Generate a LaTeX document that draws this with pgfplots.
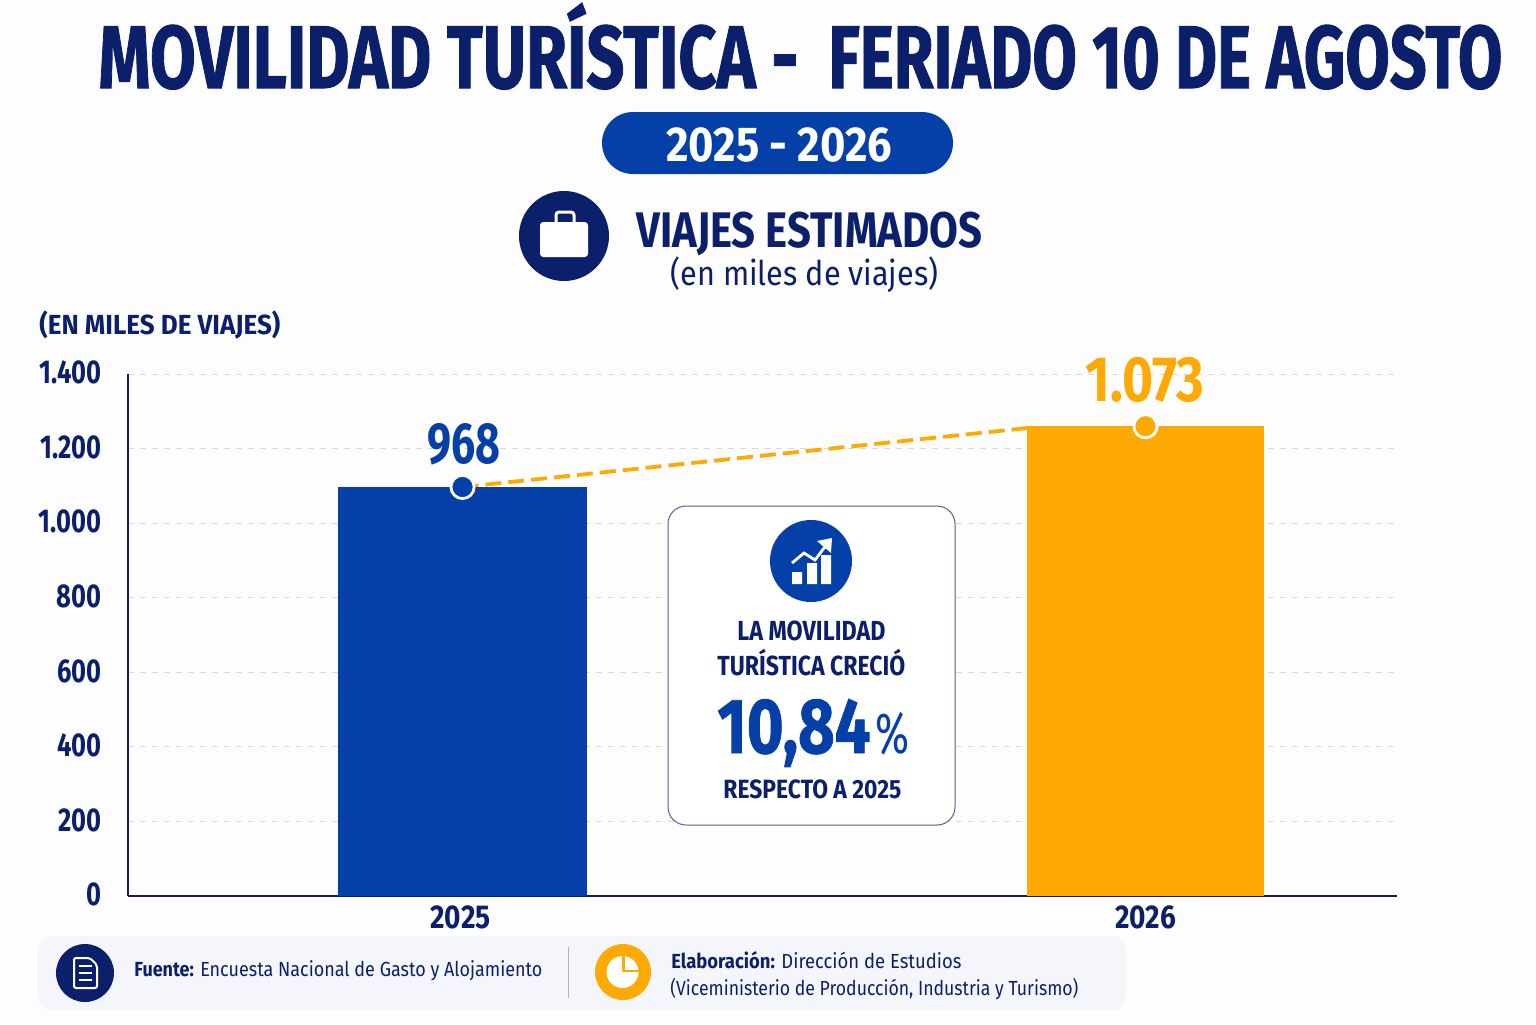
\documentclass[border=0pt]{standalone}
\usepackage{graphicx}
\usepackage{fontspec}
\usepackage{pgfplots}
\pgfplotsset{compat=1.18}
\setmainfont{Fira Sans}
\newfontfamily\heavy[FakeBold=1.2]{Fira Sans}
\definecolor{navy}{HTML}{0B1F6B}
\definecolor{cblue}{HTML}{0540A8}
\definecolor{corange}{HTML}{FFA905}
\definecolor{bgc}{HTML}{FDFDFE}
\definecolor{foot}{HTML}{F5F6FC}
\newcommand\T[6]{\node[anchor=base west,inner sep=0pt,text=#5] at (#1,#2) {\fontsize{#4}{#4}\selectfont\resizebox{\dimexpr#3pt/2\relax}{\height}{#6}};}
\newcommand\W[3]{\fontsize{#2}{#2}\selectfont\resizebox{\dimexpr#1pt/2\relax}{\height}{#3}}
\begin{document}
\begin{tikzpicture}[x=0.5pt,y=-0.5pt]
\fill[bgc] (0,0) rectangle (1536,1024);
% Bar heights follow the heights as drawn in the reference (on its own axis);
% the printed labels 968 and 1.073 are kept as printed there.
\begin{axis}[
  at={(64pt,-448pt)},anchor=south west,scale only axis,
  width=634.5pt,height=261pt,
  xmin=-0.4898,xmax=1.3682,ymin=0,ymax=1400,
  axis lines=left,axis line style={-,navy,line width=0.8pt},
  major tick length=0pt,
  ytick={0,200,400,600,800,1000,1200,1400},
  yticklabels={0,200,400,600,800,1.000,1.200,1.400},
  xtick={-0.003,1},xticklabels={2025,2026},
  ymajorgrids,grid style={dashed,gray!30,line width=0.4pt},
  yticklabel style={anchor=east,xshift=-10.5pt,yshift=0.7pt,text=navy,font=\fontsize{16.5}{16.5}\selectfont\bfseries,xscale=0.775},
  xticklabel style={anchor=base,yshift=-16pt,text=navy,font=\fontsize{16.5}{16.5}\selectfont\bfseries,xscale=0.85},
  clip=false,
]
\addplot[corange,line width=1.9pt,dash pattern=on 8pt off 3.5pt] coordinates {(0,1097) (0.8265,1255)};
\addplot[ybar,bar width=124.5pt,bar shift=0pt,fill=cblue,draw=none] coordinates {(0,1097)};
\addplot[ybar,bar width=118.5pt,bar shift=0pt,fill=corange,draw=none] coordinates {(1,1260)};
\addplot[only marks,mark=*,mark size=5.8pt,mark options={fill=cblue,draw=white,line width=1.4pt}] coordinates {(0,1097)};
\addplot[only marks,mark=*,mark size=5.8pt,mark options={fill=corange,draw=white,line width=1.4pt}] coordinates {(1,1260)};
\node[anchor=base,inner sep=0pt,text=cblue] at (axis cs:0.0015,1161) {\bfseries\W{73}{29}{968}};
\node[anchor=base,inner sep=0pt,text=corange] at (axis cs:0.9993,1325) {\bfseries\W{119}{32}{1.073}};
\end{axis}
% title
\T{98}{88}{700}{44.5}{navy}{\heavy\bfseries MOVILIDAD TURÍSTICA -}
\T{828}{88}{674}{44.5}{navy}{\heavy\bfseries FERIADO 10 DE AGOSTO}
% pill
\fill[cblue,rounded corners=15.5pt] (602,112) rectangle (953,174);
\T{666}{161}{226}{24.5}{white}{\bfseries 2025 - 2026}
% heading
\fill[navy] (564,236) circle[radius=45];
\fill[white,rounded corners=1.6pt] (540,222) rectangle (588,257);
\draw[white,line width=1.5pt,rounded corners=1.5pt] (556,222) -- (556,212) -- (574,212) -- (574,222);
\T{636}{247}{346}{25}{navy}{\bfseries VIAJES ESTIMADOS}
\T{670}{285}{268}{17}{navy}{(en miles de viajes)}
\T{39}{334}{241}{13.8}{navy}{\bfseries (EN MILES DE VIAJES)}
% callout
\draw[draw=navy!70,fill=white,line width=0.5pt,rounded corners=9pt] (668,506) rectangle (955,825);
\fill[cblue] (811,561) circle[radius=41];
\fill[white] (792,572) rectangle (802,584) (807,563) rectangle (817,584) (821,555) rectangle (831,584);
\draw[white,line width=1.4pt] (792,563) -- (804,553) -- (815,560) -- (827,544);
\fill[white] (817,541) -- (832,538) -- (831,553) -- cycle;
\T{737}{640}{148}{13.8}{navy}{\bfseries LA MOVILIDAD}
\T{717}{675}{188}{13.8}{navy}{\bfseries TURÍSTICA CRECIÓ}
\T{717}{753}{153}{39}{cblue}{\heavy\bfseries 10,84}
\T{875}{753}{34}{29}{cblue}{\%}
\T{723}{798}{178}{13.2}{navy}{\bfseries RESPECTO A 2025}
% footer
\fill[foot,rounded corners=7pt] (38,936) rectangle (1126,1010);
\fill[navy] (85,973) circle[radius=29];
\draw[white,line width=1pt,rounded corners=1pt] (74,958) -- (90,958) -- (97,965) -- (97,988) -- (74,988) -- cycle;
\draw[white,line width=0.9pt] (79,966) -- (92,966) (79,973) -- (92,973) (79,980) -- (92,980);
\T{134}{976}{408}{10.2}{navy}{\textbf{Fuente:} Encuesta Nacional de Gasto y Alojamiento}
\draw[gray!60,line width=0.5pt] (568,947) -- (568,998);
\fill[corange] (623,972) circle[radius=28];
\fill[white] (622.5,972) circle[radius=16];
\draw[corange,line width=1.4pt] (623.5,954) -- (623.5,971) -- (641,971);
\T{671}{968}{290}{10.2}{navy}{\textbf{Elaboración:} Dirección de Estudios}
\T{670}{995}{408}{10.2}{navy}{(Viceministerio de Producción, Industria y Turismo)}
\end{tikzpicture}
\end{document}
